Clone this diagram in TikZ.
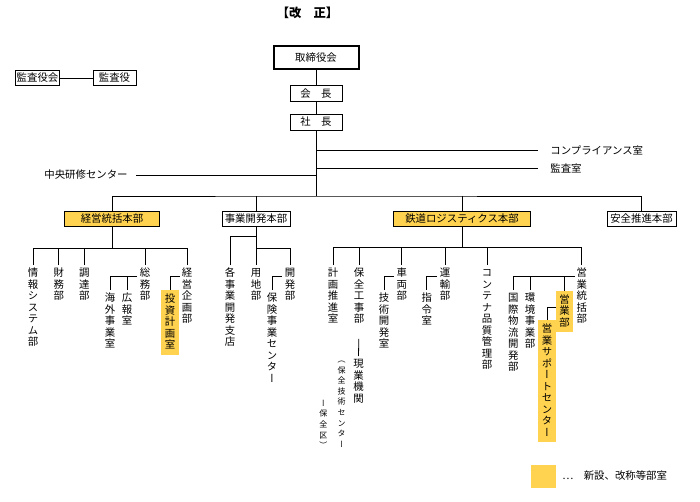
\documentclass[tikz,border=0pt]{standalone}
\usepackage{fontspec}
\setmainfont{Noto Sans CJK JP}
\newfontfamily\tatefont[RawFeature=+vert]{Noto Sans CJK JP}
\definecolor{shinsetsu}{HTML}{FFD24F}
\makeatletter
\newlength\tatepitch
\def\tate@end{}
\newcommand\tate[2][11.5pt]{\setlength\tatepitch{#1}\tatefont\vbox{\offinterlineskip\tate@loop#2\tate@end}}
\def\tate@loop#1{\ifx#1\tate@end\else\hbox to 1em{\hss\vrule height .77\tatepitch depth .23\tatepitch width 0pt #1\hss}\expandafter\tate@loop\fi}
\makeatother
\begin{document}
\begin{tikzpicture}[x=1pt,y=-1pt,line width=0.8pt,font=\fontsize{10.4}{12}\selectfont,
	hako/.style={draw,shape=rectangle,inner sep=1pt,minimum height=15.5pt},
	tbu/.style={anchor=north,inner sep=2.5pt},
	tshin/.style={anchor=north,inner sep=3.5pt,fill=shinsetsu}]
		\useasboundingbox (0,0) rectangle (700,502);
		
		\node[font=\bfseries\fontsize{12.3}{14}\selectfont] (midashi) at (307.5,13) {【改　正】};
		
		% top
		\node[hako,line width=2pt,minimum width=85pt,minimum height=23pt] (tori) at (316,58) {取締役会};
		\node[hako,minimum width=52pt,minimum height=16pt] (kaic) at (316,93.5) {会　長};
		\node[hako,minimum width=52pt,minimum height=16pt] (shac) at (316,122) {社　長};
		\node[hako,minimum width=43pt] (kanskai) at (37.5,78) {監査役会};
		\node[hako,minimum width=43pt] (kansyak) at (114.5,78) {監査役};
		\draw (tori) -- (kaic);
		\draw (kaic) -- (shac);
		\draw (kanskai) -- (kansyak);
		
		\node[anchor=west,inner sep=1pt] (comp) at (549,150.5) {コンプライアンス室};
		\node[anchor=west,inner sep=1pt] (kansa) at (549,168) {監査室};
		\node[anchor=east,inner sep=1pt] (chuo) at (129,175) {中央研修センター};
		\coordinate (j1) at (316,150.5);
		\coordinate (j2) at (316,168);
		\coordinate (j3) at (316,175);
		\coordinate (bus) at (316,196);
		\draw (shac) -- (bus);
		\draw[shorten >=11pt] (j1) -- (comp.west);
		\draw[shorten >=11pt] (j2) -- (kansa.west);
		\draw[shorten >=7pt] (j3) -- (chuo.east);
		
		% honbu
		\node[hako,fill=shinsetsu,minimum width=95pt] (keie) at (112,219) {経営統括本部};
		\node[hako,minimum width=68pt] (jigy) at (256,219) {事業開発本部};
		\node[hako,fill=shinsetsu,minimum width=137pt] (tets) at (462,219) {鉄道ロジスティクス本部};
		\node[hako,minimum width=69pt] (anze) at (641.5,219) {安全推進本部};
		\draw (keie.north) |- (bus) -| (anze.north);
		\draw (jigy.north) -- (jigy.north |- bus);
		\draw (tets.north) -- (tets.north |- bus);
		
		% keiei toukatsu
		\coordinate (kb) at (112,248);
		\node[tbu] (joho) at (33,265) {\tate{情報システム部}};
		\node[tbu] (zaim) at (58.7,265) {\tate{財務部}};
		\node[tbu] (chot) at (84.3,265) {\tate{調達部}};
		\node[tbu] (somu) at (145,265) {\tate{総務部}};
		\node[tbu] (keik) at (187,265) {\tate{経営企画部}};
		\draw (keie) -- (kb);
		\draw (joho.north) |- (kb);
		\draw (keik.north) |- (kb);
		\foreach \n in {zaim,chot,somu}
			\draw (\n.north) -- (\n.north |- kb);
		\node[tbu] (kaig) at (110,290) {\tate{海外事業室}};
		\node[tbu] (kouh) at (127,290) {\tate{広報室}};
		\node[tshin] (tosh) at (170,290) {\tate{投資計画室}};
		\coordinate (smj) at (137,276);
		\coordinate (kkj) at (180,276);
		\draw (smj) -| (kaig.north);
		\draw (kouh.north) -- (kouh.north |- smj);
		\draw (kkj) -| (tosh.north);
		
		% jigyou kaihatsu
		\coordinate (jb1) at (256,236.5);
		\coordinate (jb2) at (256,248);
		\node[tbu] (kaku) at (230,265) {\tate{各事業開発支店}};
		\node[tbu] (youc) at (256,265) {\tate{用地部}};
		\node[tbu] (kaih) at (290,265) {\tate{開発部}};
		\node[tbu] (hoke) at (272,290) {\tate{保険事業センター}};
		\coordinate (khj) at (282,276);
		\draw (jigy) -- (youc.north);
		\draw (kaku.north) |- (jb1);
		\draw (kaih.north) |- (jb2);
		\draw (khj) -| (hoke.north);
		
		% tetsudou logistics
		\coordinate (tb) at (462,247);
		\node[tbu] (keis) at (333,265) {\tate{計画推進室}};
		\node[tbu] (hozk) at (359,265) {\tate{保全工事部}};
		\node[tbu] (shar) at (401.7,265) {\tate{車両部}};
		\node[tbu] (unyu) at (445,265) {\tate{運輸部}};
		\node[tbu] (cont) at (487,265) {\tate{コンテナ品質管理部}};
		\node[tbu] (eito) at (581.7,265) {\tate{営業統括部}};
		\draw (tets) -- (tb);
		\draw (keis.north) |- (tb);
		\draw (eito.north) |- (tb);
		\foreach \n in {hozk,shar,unyu,cont}
			\draw (\n.north) -- (\n.north |- tb);
		\node[tbu] (gijt) at (384,290) {\tate{技術開発室}};
		\node[tbu] (shir) at (426.7,290) {\tate{指令室}};
		\coordinate (shj) at (394,276);
		\coordinate (unj) at (437,276);
		\draw (shj) -| (gijt.north);
		\draw (unj) -| (shir.north);
		\node[tbu] (genk) at (358.5,356) {\tate{現業機関}};
		\node[tbu,font=\fontsize{8}{9}\selectfont] (hgc) at (341.7,351.5) {\tate[10.6pt]{（保全技術センター}};
		\node[tbu,font=\fontsize{8}{9}\selectfont] (hzk) at (323.3,395.3) {\tate[10.6pt]{ー保全区）}};
		\draw[shorten <=10.5pt] (hozk.south) -- (genk.north);
		
		% eigyou toukatsu
		\coordinate (eij) at (575,276);
		\node[tbu] (koku) at (513.3,290) {\tate{国際物流開発部}};
		\node[tbu] (kank) at (530,290) {\tate{環境事業部}};
		\node[tshin] (eigb) at (564.5,290.5) {\tate{営業部}};
		\node[tshin] (eisp) at (547,320) {\tate{営業サポートセンター}};
		\coordinate (egj) at (556,307.5);
		\draw (eij) -| (koku.north);
		\draw (kank.north) -- (kank.north |- eij);
		\draw (eigb.north) -- (eigb.north |- eij);
		\draw (egj) -| (eisp.north);
		
		% hanrei
		\node[fill=shinsetsu,minimum width=25pt,minimum height=23pt,inner sep=0pt] (hanrei) at (543.5,476.5) {};
		\node[anchor=west,inner sep=1pt] (hanreit) at (561,476) {…　新設、改称等部室};
		\end{tikzpicture}
\end{document}
